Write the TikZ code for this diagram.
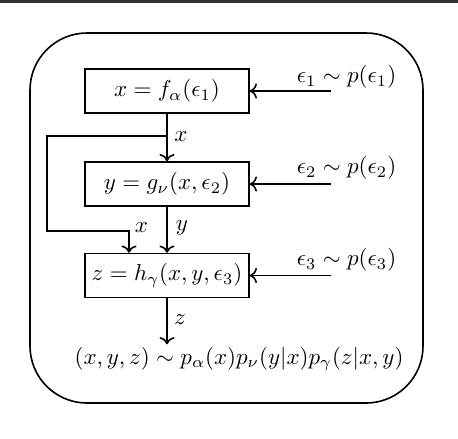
\documentclass[tikz,border=0pt]{standalone}
\usetikzlibrary{arrows.meta}
\begin{document}
\begin{tikzpicture}[x=0.435pt,y=-0.435pt,
  fbox/.style={draw,line width=0.7pt,minimum width=71.3pt,minimum height=19.1pt,inner sep=0pt},
  arr/.style={->,line width=0.7pt},
  lbl/.style={inner sep=0pt}]
\useasboundingbox (0,0) rectangle (458,438);
\fill[black!80] (0,0) rectangle (458,3);
\draw[line width=0.7pt,rounded corners=24.8pt] (30,33) rectangle (423,403);
\node[fbox] (b1) at (167,91) {$x = f_\alpha(\epsilon_1)$};
\node[fbox] (b2) at (167,184) {$y = g_\nu(x,\epsilon_2)$};
\node[fbox] (b3) at (167,275.5) {$z = h_\gamma(x,y,\epsilon_3)$};
\node[inner sep=1pt] (out) at (239,359) {$(x,y,z) \sim p_\alpha(x)p_\nu(y|x)p_\gamma(z|x,y)$};
\node[lbl] (e1) at (346.5,77) {$\epsilon_1 \sim p(\epsilon_1)$};
\node[lbl] (e2) at (346.5,168) {$\epsilon_2 \sim p(\epsilon_2)$};
\node[lbl] (e3) at (346.5,260) {$\epsilon_3 \sim p(\epsilon_3)$};
\coordinate (s1) at (331,91);
\coordinate (s2) at (331,184);
\coordinate (s3) at (331,275.5);
\coordinate (split) at (167,136);
\coordinate (lc) at (47,136);
\coordinate (k) at (129,231);
\draw[arr] (b1) -- (b2);
\draw[arr] (b2) -- (b3);
\draw[arr] (b3) -- (b3.south |- out.north);
\draw[arr] (split) -- (lc) |- (k) -- (k |- b3.north);
\draw[arr] (s1) -- (b1);
\draw[arr] (s2) -- (b2);
\draw[arr] (s3) -- (b3);
\node[lbl] (lx1) at (181,137) {$x$};
\node[lbl] (lx2) at (141.5,228) {$x$};
\node[lbl] (ly) at (182,228) {$y$};
\node[lbl] (lz) at (180,320) {$z$};
\end{tikzpicture}
\end{document}
